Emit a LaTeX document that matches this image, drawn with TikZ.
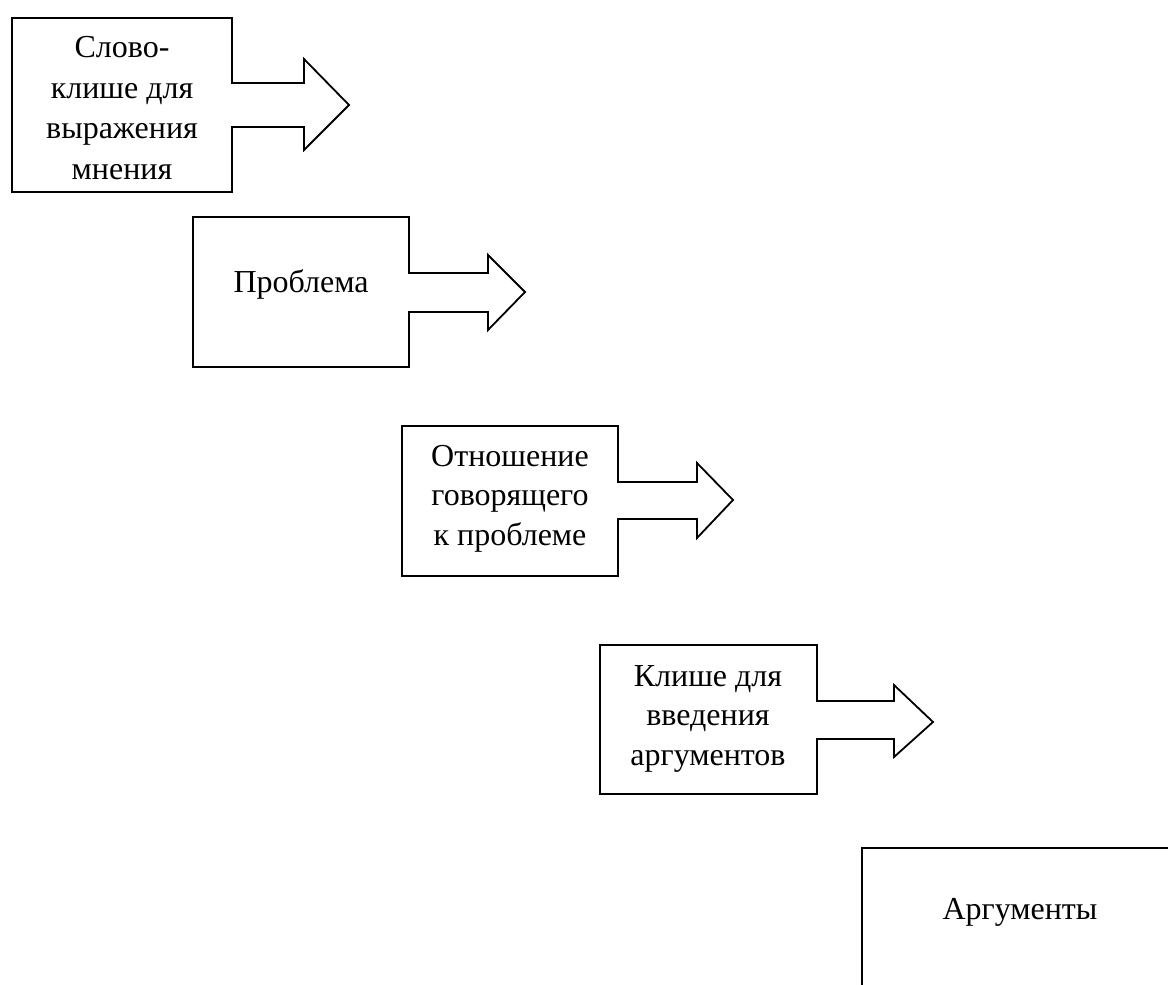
\documentclass[tikz,border=0pt]{standalone}
\usepackage{fontspec}
\setmainfont{Liberation Serif}
\begin{document}
\begin{tikzpicture}[x=1pt,y=-1pt,
  shapeline/.style={draw=black,line width=1.8pt,line join=miter,fill=white},
  label/.style={font=\fontsize{32}{39.5}\selectfont,align=center,inner sep=0pt}]
\useasboundingbox (0,0) rectangle (1168,985);
\clip (0,0) rectangle (1168,985);
% Shape 1
\draw[shapeline] (12,18) -- (232,18) -- (232,83) -- (304,83) -- (304,59) -- (349,105)
  -- (304,150) -- (304,127) -- (232,127) -- (232,192) -- (12,192) -- cycle;
\node[label,font=\fontsize{32}{40.5}\selectfont] (t1) at (122,108) {Слово-\\клише для\\выражения\\мнения};
% Shape 2
\draw[shapeline] (193,217) -- (409,217) -- (409,273) -- (488,273) -- (488,255) -- (525,292)
  -- (488,330) -- (488,312) -- (409,312) -- (409,367) -- (193,367) -- cycle;
\node[label,anchor=base] (t2) at (301,292) {Проблема};
% Shape 3
\draw[shapeline] (402,426) -- (618,426) -- (618,482) -- (697,482) -- (697,463) -- (733,500)
  -- (697,538) -- (697,519) -- (618,519) -- (618,576) -- (402,576) -- cycle;
\node[label] (t3) at (510,498.5) {Отношение\\говорящего\\к проблеме};
% Shape 4
\draw[shapeline] (600,645) -- (817,645) -- (817,701) -- (894,701) -- (894,685) -- (933,722)
  -- (894,757) -- (894,739) -- (817,739) -- (817,794) -- (600,794) -- cycle;
\node[label] (t4) at (708,718.5) {Клише для\\введения\\аргументов};
% Box 5 (cut off by the page edge)
\draw[shapeline] (862,1000) -- (862,848) -- (1180,848) -- (1180,1000);
\node[label,anchor=base] (t5) at (1020,919) {Аргументы};
\end{tikzpicture}
\end{document}
